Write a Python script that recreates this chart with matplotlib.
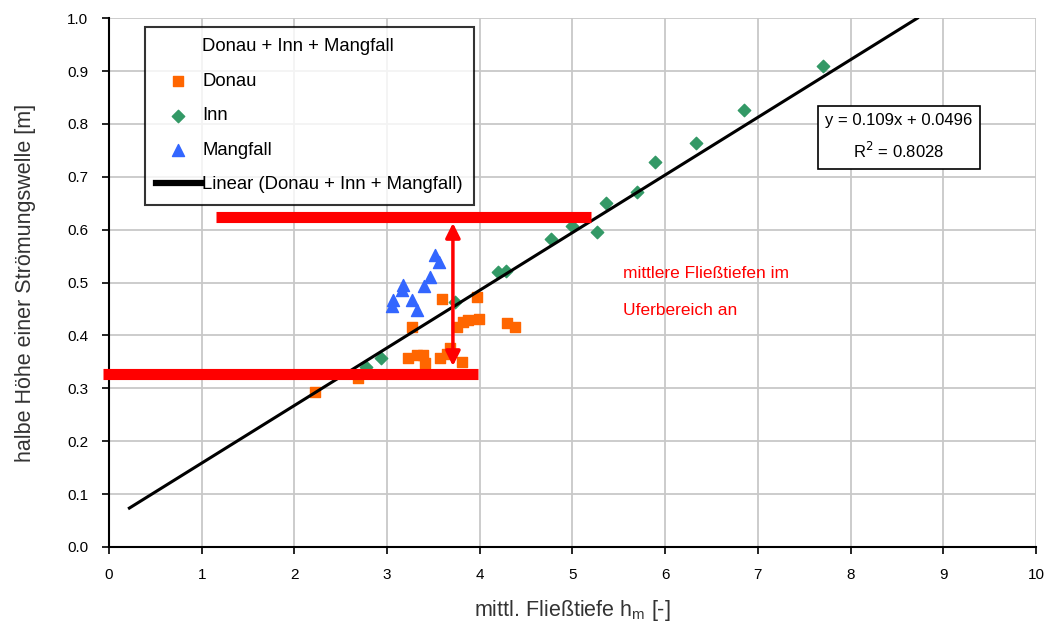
import numpy as np
import matplotlib.pyplot as plt

plt.rcParams['font.family'] = ['Liberation Sans', 'DejaVu Sans']

donau_x = [2.22, 2.69, 3.59, 3.97, 3.27, 3.75, 3.82, 3.87, 3.99, 4.29, 4.38,
           3.23, 3.32, 3.39, 3.41, 3.57, 3.68, 3.65, 3.81]
donau_y = [0.293, 0.320, 0.469, 0.472, 0.416, 0.416, 0.425, 0.430, 0.431, 0.423, 0.416,
           0.357, 0.363, 0.363, 0.348, 0.357, 0.376, 0.365, 0.350]

inn_x = [2.77, 2.93, 3.73, 4.20, 4.28, 4.77, 4.99, 5.26, 5.36, 5.70, 5.89, 6.33, 6.85, 7.70]
inn_y = [0.340, 0.357, 0.463, 0.520, 0.522, 0.582, 0.607, 0.595, 0.650, 0.671, 0.728, 0.764, 0.826, 0.910]

mang_x = [3.52, 3.56, 3.46, 3.40, 3.17, 3.16, 3.06, 3.05, 3.27, 3.32]
mang_y = [0.552, 0.539, 0.511, 0.493, 0.495, 0.486, 0.467, 0.455, 0.467, 0.448]

slope = 0.109
intercept = 0.0496
fit_x = [0.22, 8.72]

fig = plt.figure(figsize=(10.55, 6.28), dpi=100)
ax = fig.add_axes([0.1033, 0.129, 0.8787, 0.842])

all_x = donau_x + inn_x + mang_x
all_y = donau_y + inn_y + mang_y
ax.plot(all_x, all_y, linestyle='none', marker=None, label='Donau + Inn + Mangfall')
ax.scatter(donau_x, donau_y, marker='s', s=60, color='#ff6600', zorder=3, label='Donau')
ax.scatter(inn_x, inn_y, marker='D', s=40, color='#339966', zorder=3, label='Inn')
ax.scatter(mang_x, mang_y, marker='^', s=75, color='#3366ff', zorder=3, label='Mangfall')
fx = np.array(fit_x)
ax.plot(fx, slope * fx + intercept, color='black', lw=2.2, zorder=4,
        label='Linear (Donau + Inn + Mangfall)')

# rote Markierungen
ax.plot([1.15, 5.2], [0.625, 0.625], color='red', lw=8, solid_capstyle='butt', zorder=5, clip_on=False)
ax.plot([-0.06, 3.98], [0.327, 0.327], color='red', lw=8, solid_capstyle='butt', zorder=5, clip_on=False)
ax.annotate('', xy=(3.71, 0.618), xytext=(3.71, 0.337),
            arrowprops=dict(arrowstyle='<|-|>', color='red', lw=2.5, mutation_scale=22), zorder=6)
ax.text(5.55, 0.518, 'mittlere Fließtiefen im', color='red', fontsize=12.5, va='center')
ax.text(5.55, 0.448, 'Uferbereich an', color='red', fontsize=12.5, va='center')

ax.text(8.52, 0.775, 'y = 0.109x + 0.0496\nR$^2$ = 0.8028', fontsize=12, ha='center', va='center',
        linespacing=1.75, bbox=dict(boxstyle='square,pad=0.45', fc='white', ec='black', lw=1.2), zorder=6)

ax.set_xlim(0, 10)
ax.set_ylim(0, 1.0)
ax.set_xticks(range(0, 11))
ax.set_yticks(np.arange(0, 1.01, 0.1))
ax.set_yticklabels([f'{v:.1f}' for v in np.arange(0, 1.01, 0.1)])
ax.grid(True, color='#c8c8c8', lw=1.3)
ax.set_axisbelow(True)
for s in ['top', 'right']:
    ax.spines[s].set_visible(False)
ax.spines['left'].set_linewidth(1.5)
ax.spines['bottom'].set_linewidth(1.5)
ax.tick_params(direction='out', length=5, width=1.2, labelsize=11, pad=10)

ax.set_xlabel('mittl. Fließtiefe h$_\\mathregular{m}$ [-]', fontsize=15.5, color='#333333', labelpad=12)
ax.set_ylabel('halbe Höhe einer Strömungswelle [m]', fontsize=15.5, color='#333333', labelpad=22)

leg = ax.legend(loc='upper left', bbox_to_anchor=(0.039, 0.983), fontsize=13.3, frameon=True,
                fancybox=False, edgecolor='black', handlelength=2.4, labelspacing=0.95,
                borderpad=0.6, handletextpad=0.1, borderaxespad=0)
leg.get_frame().set_linewidth(1.5)
leg.get_lines()[-1].set_linewidth(4.5)

fig.savefig('out.png', dpi=100)
